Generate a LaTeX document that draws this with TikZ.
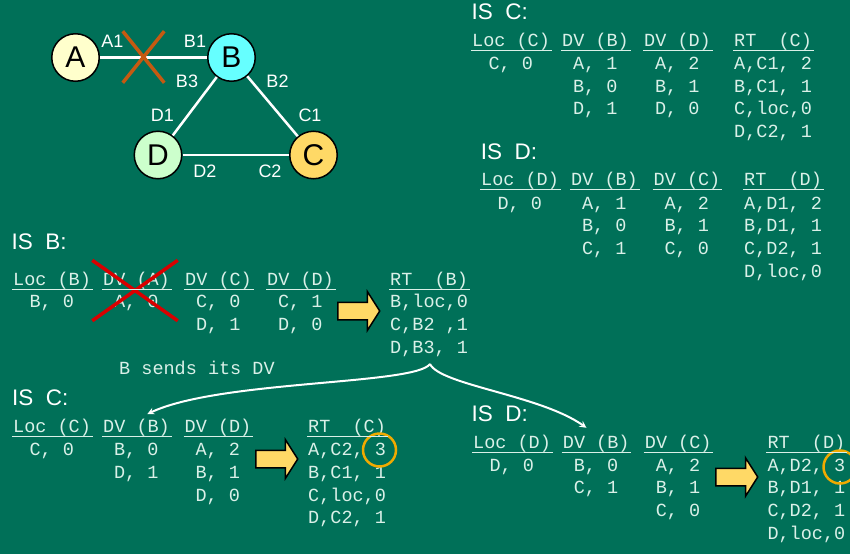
\documentclass[tikz,border=0pt]{standalone}
\usepackage{fontspec}
\setmainfont{Liberation Sans}
\newfontfamily\courfont{Liberation Mono}
\usetikzlibrary{shapes,shapes.arrows,shapes.misc,positioning}
\definecolor{board}{RGB}{0,112,88}
\definecolor{chalk}{RGB}{218,240,232}
\definecolor{fillA}{RGB}{255,255,204}
\definecolor{fillB}{RGB}{102,255,255}
\definecolor{fillC}{RGB}{255,217,102}
\definecolor{fillD}{RGB}{204,255,204}
\definecolor{cutlink}{RGB}{197,90,17}
\definecolor{mark3}{RGB}{240,170,0}

\begin{document}
\begin{tikzpicture}[x=1pt, y=-1pt]
    \tikzstyle{every node}=[inner sep=0pt]
    \tikzstyle{router}=[circle, draw=black, line width=1.5pt, minimum size=47.5pt,
                        font=\fontsize{30}{30}\selectfont]
    \tikzstyle{port}=[text=white, font=\fontsize{18}{18}\selectfont]
    \tikzstyle{link}=[draw=white, line width=2.5pt]
    \tikzstyle{istitle}=[text=white, anchor=base west, font=\fontsize{22.5}{22.5}\selectfont]
    \tikzstyle{colhead}=[text=chalk, anchor=base west, font=\courfont\fontsize{18.5}{22.7}\selectfont]
    % multi-line cells sit on the baseline of their last row
    \tikzstyle{colbody}=[text=chalk, align=center, anchor=base, font=\courfont\fontsize{18.5}{22.7}\selectfont]
    \tikzstyle{rtbody}=[text=chalk, align=left, anchor=base west, font=\courfont\fontsize{18.5}{22.7}\selectfont]
    \tikzstyle{rule}=[draw=chalk, line width=1pt]
    \tikzstyle{update}=[single arrow, draw=black, fill=fillC, line width=1.5pt,
                        inner xsep=0pt, inner ysep=8pt, minimum height=42pt,
                        single arrow head extend=10.5pt, single arrow tip angle=115, anchor=tail]
    \tikzstyle{changed}=[circle, draw=mark3, line width=2.5pt, minimum size=33pt]
    \tikzstyle{sends}=[->, >=stealth, draw=white, line width=2pt]

    \useasboundingbox (0,0) rectangle (850,554);
    \fill[board] (0,0) rectangle (850,554);

    % the network
    \node[router, fill=fillA] (A) at (75.5,57.5) {A};
    \node[router, fill=fillB] (B) at (231.5,57.5) {B};
    \node[router, fill=fillD] (D) at (158,155) {D};
    \node[router, fill=fillC] (C) at (313.5,155) {C};
    \draw[link] (A) -- (B);
    \draw[link] (B) -- (D);
    \draw[link] (B) -- (C);
    \draw[link] (D) -- (C);
    \node[cross out, draw=cutlink, line width=3.5pt, minimum width=38pt, minimum height=48pt] (cut) at (143.5,57) {};
    \node[port] (pA1) at (112.5,41.7) {A1};
    \node[port] (pB1) at (195,41.7) {B1};
    \node[port] (pB3) at (187,81.7) {B3};
    \node[port] (pB2) at (277.5,81.7) {B2};
    \node[port] (pD1) at (162.5,115) {D1};
    \node[port] (pC1) at (310,115) {C1};
    \node[port] (pD2) at (205,171.7) {D2};
    \node[port] (pC2) at (270,171.7) {C2};

    % IS C, before
    \node[istitle] (tC) at (471.3,19.3) {IS~~C:};
    \node[colhead] (tcl) at (472,46.7) {Loc (C)};
    \node[colhead] (tcb) at (562,46.7) {DV (B)};
    \node[colhead] (tcd) at (644,46.7) {DV (D)};
    \node[colhead] (tcr) at (734,46.7) {RT~~(C)};
    \node[colbody] (tcl0) at (510.8,69.5) {C, 0};
    \node[colbody] (tcb0) at (595.3,114.9) {A, 1\\B, 0\\D, 1};
    \node[colbody] (tcd0) at (677.3,114.9) {A, 2\\B, 1\\D, 0};
    \node[rtbody] (tcr0) at (734,137.6) {A,C1, 2\\B,C1, 1\\C,loc,0\\D,C2, 1};

    % IS D, before
    \node[istitle] (tD) at (480.7,159.3) {IS~~D:};
    \node[colhead] (tdl) at (481,185.7) {Loc (D)};
    \node[colhead] (tdb) at (571,185.7) {DV (B)};
    \node[colhead] (tdc) at (653.5,185.7) {DV (C)};
    \node[colhead] (tdr) at (744,185.7) {RT~~(D)};
    \node[colbody] (tdl0) at (519.8,209) {D, 0};
    \node[colbody] (tdb0) at (604.3,254.4) {A, 1\\B, 0\\C, 1};
    \node[colbody] (tdc0) at (686.8,254.4) {A, 2\\B, 1\\C, 0};
    \node[rtbody] (tdr0) at (744,277.1) {A,D1, 2\\B,D1, 1\\C,D2, 1\\D,loc,0};

    % IS B, after the A-B link fails
    \node[istitle] (tB) at (11.3,249.3) {IS~~B:};
    \node[colhead] (rbl) at (13,285) {Loc (B)};
    \node[colhead] (rba) at (103,285) {DV (A)};
    \node[colhead] (rbc) at (185,285) {DV (C)};
    \node[colhead] (rbd) at (267,285) {DV (D)};
    \node[colhead] (rbr) at (390,285) {RT~~(B)};
    \node[colbody] (rbl0) at (51.8,307.5) {B, 0};
    \node[colbody] (rba0) at (136.3,307.5) {A, 0};
    \node[colbody] (rbc0) at (218.3,330.4) {C, 0\\D, 1};
    \node[colbody] (rbd0) at (300.3,330.4) {C, 1\\D, 0};
    \node[rtbody] (rbr0) at (390,353.2) {B,loc,0\\C,B2 ,1\\D,B3, 1};
    \node[cross out, draw=red!85!black, line width=3.5pt, minimum width=82pt, minimum height=57pt] (dropA) at (135,290.5) {};
    \node[update] (upB) at (337,311) {};
    \node[colhead] (sendtxt) at (119,374) {B sends its DV};

    % IS C, after
    \node[istitle] (bC) at (12,405) {IS~~C:};
    \node[colhead] (bcl) at (13,432.7) {Loc (C)};
    \node[colhead] (bcb) at (103,432.7) {DV (B)};
    \node[colhead] (bcd) at (184.5,432.7) {DV (D)};
    \node[colhead] (bcr) at (308,432.7) {RT~~(C)};
    \node[colbody] (bcl0) at (51.8,455.7) {C, 0};
    \node[colbody] (bcb0) at (136.3,478.4) {B, 0\\D, 1};
    \node[colbody] (bcd0) at (217.8,501.1) {A, 2\\B, 1\\D, 0};
    \node[rtbody] (bcr0) at (308,523.8) {A,C2, 3\\B,C1, 1\\C,loc,0\\D,C2, 1};
    \node[update] (upC) at (255,459) {};
    \node[changed] (newC) at (379.5,450) {};

    % IS D, after
    \node[istitle] (bD) at (471.3,421.7) {IS~~D:};
    \node[colhead] (bdl) at (473,448.3) {Loc (D)};
    \node[colhead] (bdb) at (562.7,448.3) {DV (B)};
    \node[colhead] (bdc) at (644.7,448.3) {DV (C)};
    \node[colhead] (bdr) at (767.3,448.3) {RT~~(D)};
    \node[colbody] (bdl0) at (511.8,471) {D, 0};
    \node[colbody] (bdb0) at (596,493.7) {B, 0\\C, 1};
    \node[colbody] (bdc0) at (678,516.4) {A, 2\\B, 1\\C, 0};
    \node[rtbody] (bdr0) at (767.3,539.1) {A,D2, 3\\B,D1, 1\\C,D2, 1\\D,loc,0};
    \node[update] (upD) at (715,477) {};
    \node[changed] (newD) at (840,467) {};

    \foreach \h in {tcl,tcb,tcd,tcr,tdl,tdb,tdc,tdr,rbl,rba,rbc,rbd,rbr,bcl,bcb,bcd,bcr,bdl,bdb,bdc,bdr}
        \draw[rule] ([xshift=-1pt]\h.south west) -- ([xshift=1.5pt]\h.south east);

    % B's distance vector goes out to C and D
    \coordinate (fork) at (430,364);
    \draw[sends, shorten >=12pt] (fork) .. controls (415,385) and (220,380) .. (bcb.north);
    \draw[sends, shorten >=12pt] (fork) .. controls (440,385) and (540,395) .. (bdb.north);
\end{tikzpicture}
\end{document}
